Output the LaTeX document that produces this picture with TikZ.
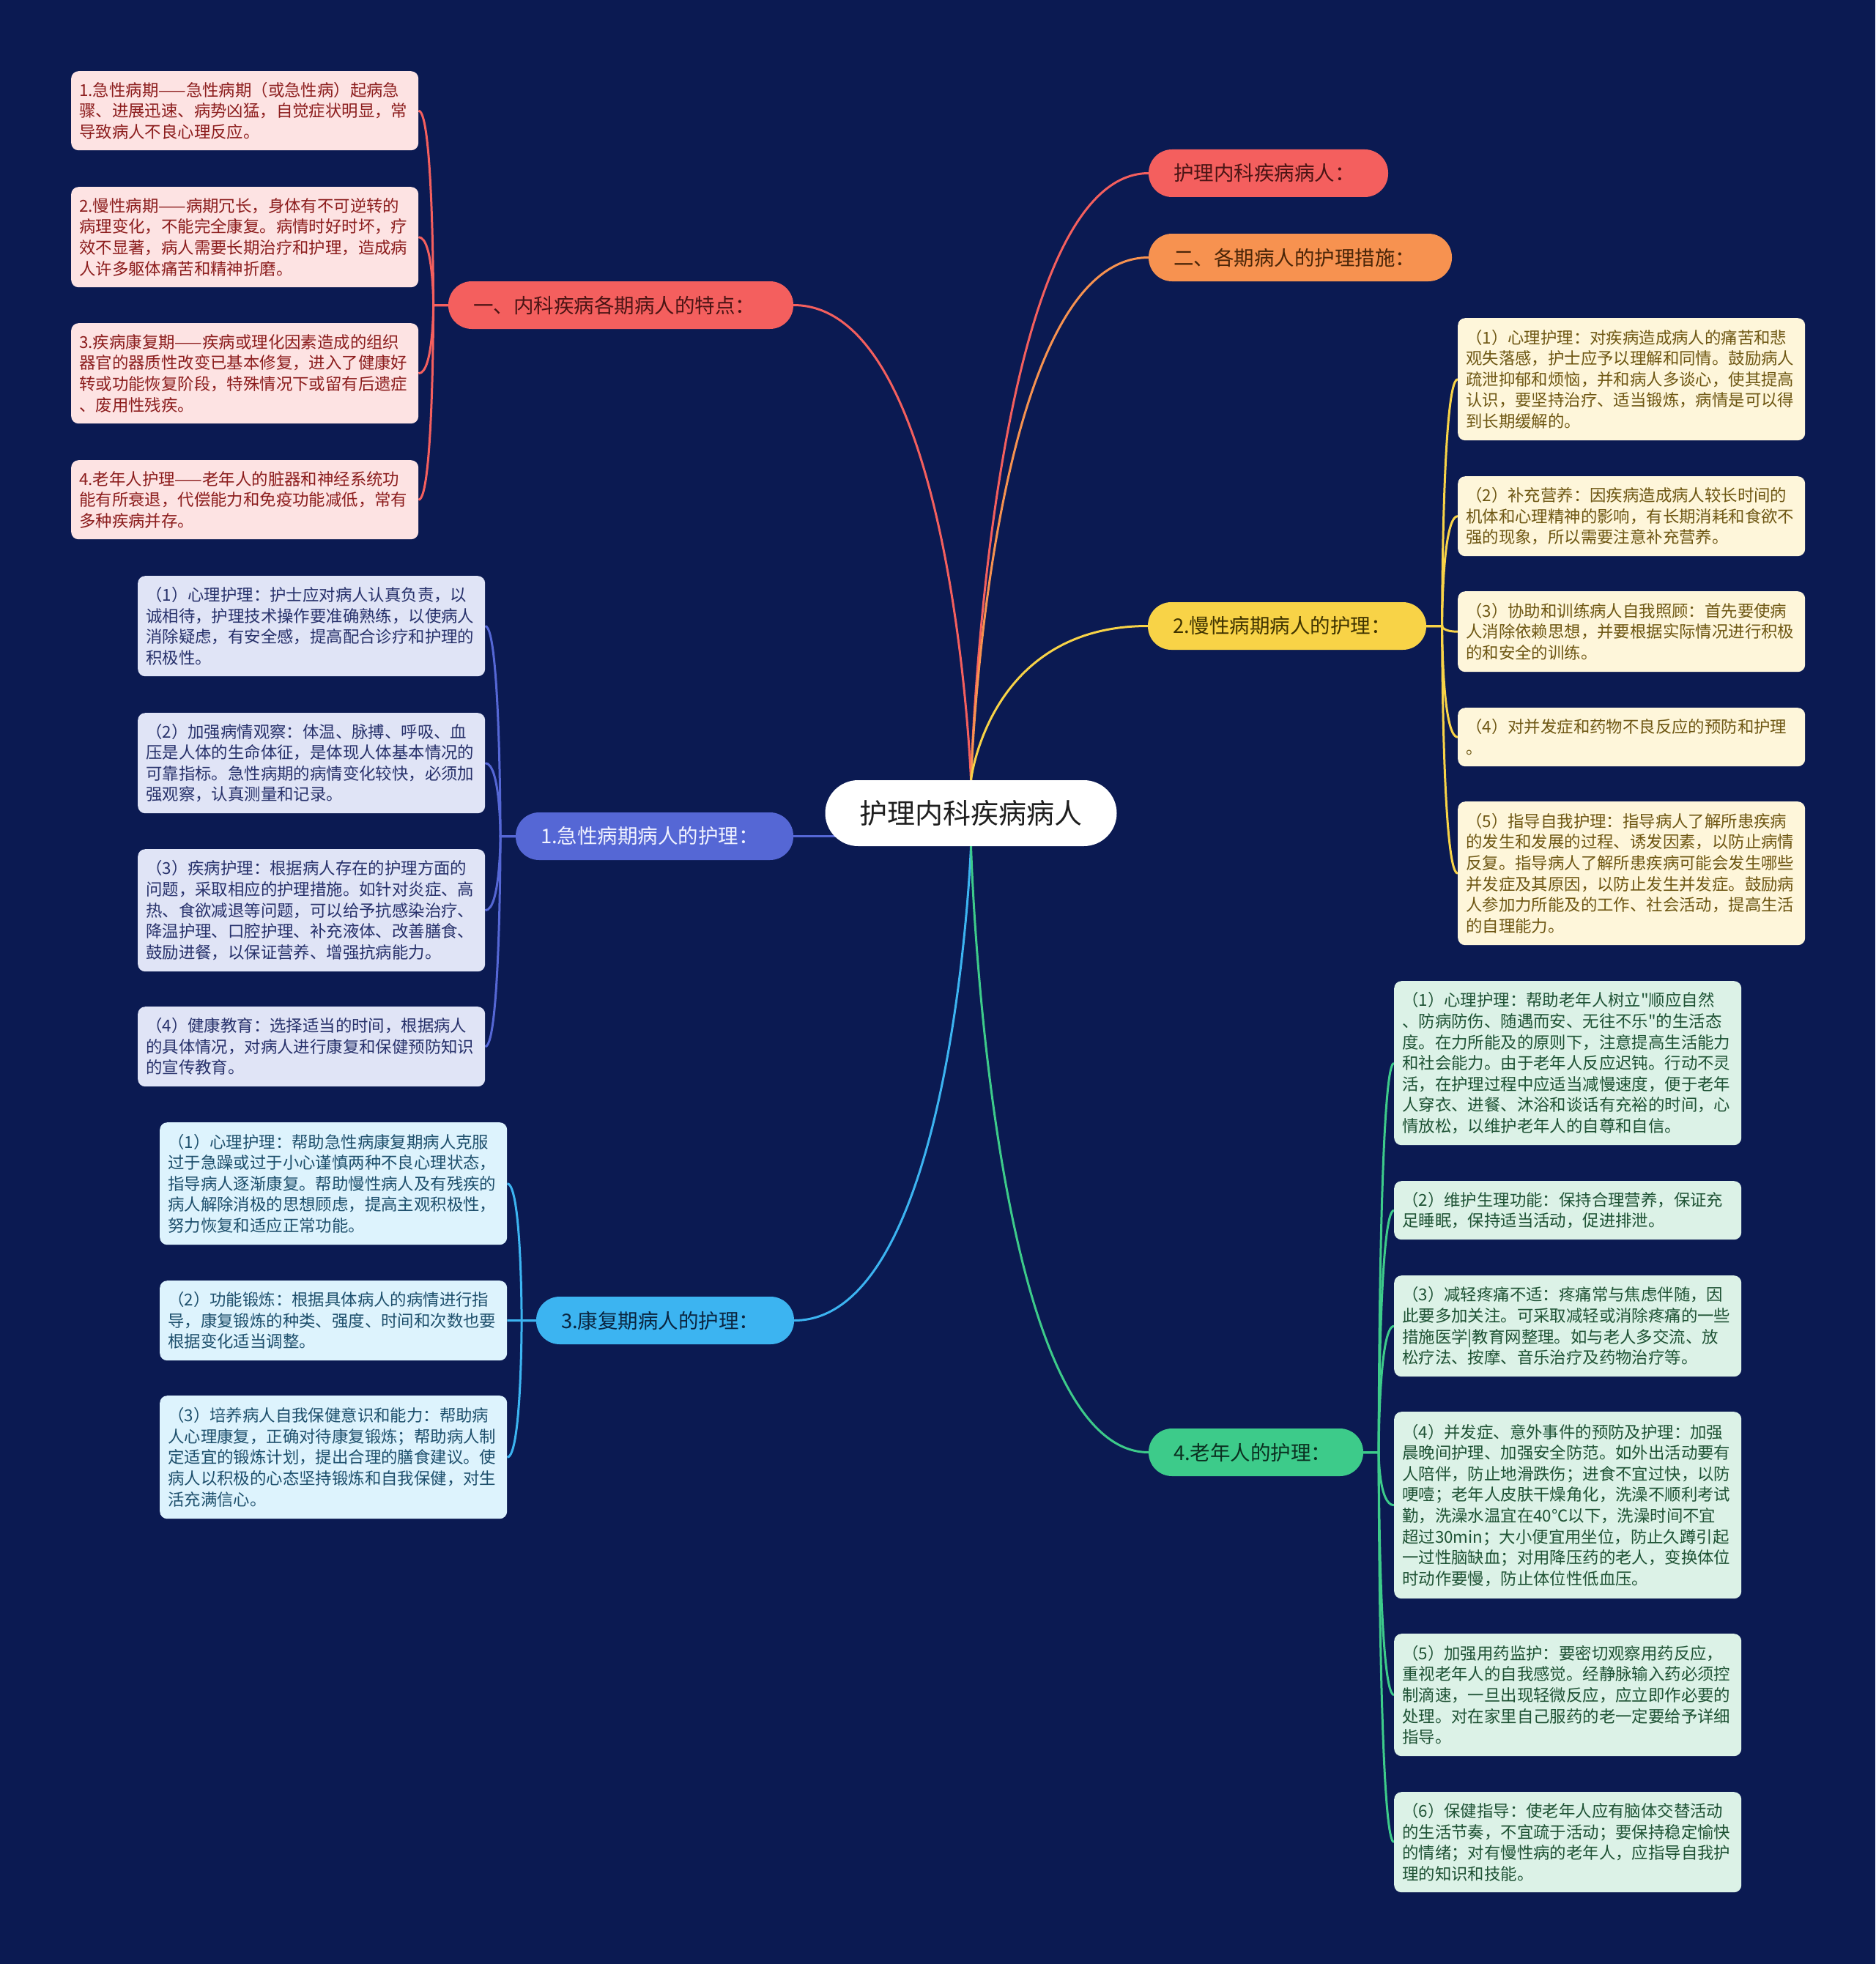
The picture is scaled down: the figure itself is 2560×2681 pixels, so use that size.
\documentclass[tikz,border=0pt]{standalone}
\usepackage{fontspec}
\setmainfont{Noto Sans CJK SC}
\newfontfamily\plainfont{Noto Sans CJK SC}
\usetikzlibrary{calc}
\parindent=0pt
\pgfdeclarelayer{bglayer}
\pgfdeclarelayer{edges}
\pgfsetlayers{bglayer,edges,main}
\definecolor{bg}{HTML}{0B1A52}
\definecolor{pRed}{HTML}{F45F5E}
\definecolor{pOrange}{HTML}{F79250}
\definecolor{pYellow}{HTML}{F8D347}
\definecolor{pBlue}{HTML}{5567D5}
\definecolor{pCyan}{HTML}{3CB4F1}
\definecolor{pGreen}{HTML}{3DCB8A}
\definecolor{tRed}{HTML}{4A1414}
\definecolor{tOrange}{HTML}{4A2508}
\definecolor{tYellow}{HTML}{3F3300}
\definecolor{tBlue}{HTML}{F0F2FF}
\definecolor{tCyan}{HTML}{0A2540}
\definecolor{tGreen}{HTML}{0A3020}
\definecolor{fPink}{HTML}{FDE3E3}
\definecolor{xPink}{HTML}{8C1D1D}
\definecolor{fLav}{HTML}{E0E4F6}
\definecolor{xLav}{HTML}{27316B}
\definecolor{fSky}{HTML}{DDF3FD}
\definecolor{xSky}{HTML}{1D4F6C}
\definecolor{fCream}{HTML}{FEF6DA}
\definecolor{xCream}{HTML}{6E5713}
\definecolor{fMint}{HTML}{DCF2E7}
\definecolor{xMint}{HTML}{1E5234}
\begin{document}
\begin{tikzpicture}[x=1pt,y=-1pt,
  edge/.style={line width=3pt},
  centernode/.style={fill=white,text=black!88,rounded corners=45pt,minimum width=398pt,minimum height=90pt,inner sep=0pt,font=\fontsize{38pt}{44pt}\selectfont},
  pill/.style={rounded corners=32pt,minimum height=65pt,inner xsep=34pt,inner ysep=0pt,align=left,font=\fontsize{27.5pt}{32pt}\selectfont},
  leaf/.style={anchor=north west,rounded corners=10pt,inner xsep=11pt,inner ysep=0pt,text width=452pt,align=left,font=\fontsize{22.4pt}{28.6pt}\selectfont},
  pink/.style={leaf,fill=fPink,text=xPink},
  lav/.style={leaf,fill=fLav,text=xLav},
  sky/.style={leaf,fill=fSky,text=xSky},
  cream/.style={leaf,fill=fCream,text=xCream},
  mint/.style={leaf,fill=fMint,text=xMint},
  trunk/.style={edge,to path={let \p1=(\tikztostart),\p2=(\tikztotarget) in (\p1) .. controls (\p1) and ({\x1+0.1*(\x2-\x1)},\y2) .. (\p2)}},
  brk/.style={edge,to path={let \p1=(\tikztostart),\p2=(\tikztotarget) in (\p1) -- ({(\x1+\x2)/2},\y1) .. controls ({(\x1+\x2)/2},\y1) and ({(\x1+\x2)/2},\y2) .. (\p2)}}
]
\begin{pgfonlayer}{bglayer}
\path[use as bounding box,fill=bg] (0,0) rectangle (2560,2681);
\end{pgfonlayer}

% center
\node[centernode] (c) at (1325.5,1110) {护理内科疾病病人};

% branches
\node[pill,fill=pRed,text=tRed,text width=259pt] (b0) at (1731.5,236.5) {护理内科疾病病人：};
\node[pill,fill=pOrange,text=tOrange,text width=346pt] (b00) at (1775,351.5) {二、各期病人的护理措施：};
\node[pill,fill=pRed,text=tRed,text width=403pt] (bL) at (847.5,416.5) {一、内科疾病各期病人的特点：};
\node[pill,fill=pYellow,text=tYellow,text width=312pt] (b2) at (1757,854.5) {2.慢性病期病人的护理：};
\node[pill,fill=pBlue,text=tBlue,text width=311pt] (b1) at (893.5,1141.5) {1.急性病期病人的护理：};
\node[pill,fill=pCyan,text=tCyan,text width=284pt] (b3) at (908,1802.5) {3.康复期病人的护理：};
\node[pill,fill=pGreen,text=tGreen,text width=225pt] (b4) at (1714.5,1982.5) {4.老年人的护理：};

% red leaves
\node[pink,minimum height=108pt] (R1) at (97,97) {1.急性病期——急性病期（或急性病）起病急\\骤、进展迅速、病势凶猛，自觉症状明显，常\\导致病人不良心理反应。};
\node[pink,minimum height=137pt] (R2) at (97,255) {2.慢性病期——病期冗长，身体有不可逆转的\\病理变化，不能完全康复。病情时好时坏，疗\\效不显著，病人需要长期治疗和护理，造成病\\人许多躯体痛苦和精神折磨。};
\node[pink,minimum height=137pt] (R3) at (97,441) {3.疾病康复期——疾病或理化因素造成的组织\\器官的器质性改变已基本修复，进入了健康好\\转或功能恢复阶段，特殊情况下或留有后遗症\\、废用性残疾。};
\node[pink,minimum height=108pt] (R4) at (97,628) {4.老年人护理——老年人的脏器和神经系统功\\能有所衰退，代偿能力和免疫功能减低，常有\\多种疾病并存。};

% lavender leaves
\node[lav,minimum height=137pt] (B1) at (188,786) {（1）心理护理：护士应对病人认真负责，以\\诚相待，护理技术操作要准确熟练，以使病人\\消除疑虑，有安全感，提高配合诊疗和护理的\\积极性。};
\node[lav,minimum height=137pt] (B2) at (188,973) {（2）加强病情观察：体温、脉搏、呼吸、血\\压是人体的生命体征，是体现人体基本情况的\\可靠指标。急性病期的病情变化较快，必须加\\强观察，认真测量和记录。};
\node[lav,minimum height=167pt] (B3) at (188,1159) {（3）疾病护理：根据病人存在的护理方面的\\问题，采取相应的护理措施。如针对炎症、高\\热、食欲减退等问题，可以给予抗感染治疗、\\降温护理、口腔护理、补充液体、改善膳食、\\鼓励进餐，以保证营养、增强抗病能力。};
\node[lav,minimum height=109pt] (B4) at (188,1374) {（4）健康教育：选择适当的时间，根据病人\\的具体情况，对病人进行康复和保健预防知识\\的宣传教育。};

% sky leaves
\node[sky,minimum height=167pt] (C1) at (218,1532) {（1）心理护理：帮助急性病康复期病人克服\\过于急躁或过于小心谨慎两种不良心理状态，\\指导病人逐渐康复。帮助慢性病人及有残疾的\\病人解除消极的思想顾虑，提高主观积极性，\\努力恢复和适应正常功能。};
\node[sky,minimum height=109pt] (C2) at (218,1748) {（2）功能锻炼：根据具体病人的病情进行指\\导，康复锻炼的种类、强度、时间和次数也要\\根据变化适当调整。};
\node[sky,minimum height=168pt] (C3) at (218,1905) {（3）培养病人自我保健意识和能力：帮助病\\人心理康复，正确对待康复锻炼；帮助病人制\\定适宜的锻炼计划，提出合理的膳食建议。使\\病人以积极的心态坚持锻炼和自我保健，对生\\活充满信心。};

% cream leaves
\node[cream,minimum height=167pt] (Y1) at (1990,434) {（1）心理护理：对疾病造成病人的痛苦和悲\\观失落感，护士应予以理解和同情。鼓励病人\\疏泄抑郁和烦恼，并和病人多谈心，使其提高\\认识，要坚持治疗、适当锻炼，病情是可以得\\到长期缓解的。};
\node[cream,minimum height=109pt] (Y2) at (1990,650) {（2）补充营养：因疾病造成病人较长时间的\\机体和心理精神的影响，有长期消耗和食欲不\\强的现象，所以需要注意补充营养。};
\node[cream,minimum height=110pt] (Y3) at (1990,807) {（3）协助和训练病人自我照顾：首先要使病\\人消除依赖思想，并要根据实际情况进行积极\\的和安全的训练。};
\node[cream,minimum height=80pt] (Y4) at (1990,966) {（4）对并发症和药物不良反应的预防和护理\\。};
\node[cream,minimum height=196pt] (Y5) at (1990,1094) {（5）指导自我护理：指导病人了解所患疾病\\的发生和发展的过程、诱发因素，以防止病情\\反复。指导病人了解所患疾病可能会发生哪些\\并发症及其原因，以防止发生并发症。鼓励病\\人参加力所能及的工作、社会活动，提高生活\\的自理能力。};

% mint leaves
\node[mint,minimum height=224pt] (G1) at (1903,1339) {（1）心理护理：帮助老年人树立{\plainfont"}顺应自然\\、防病防伤、随遇而安、无往不乐{\plainfont"}的生活态\\度。在力所能及的原则下，注意提高生活能力\\和社会能力。由于老年人反应迟钝。行动不灵\\活，在护理过程中应适当减慢速度，便于老年\\人穿衣、进餐、沐浴和谈话有充裕的时间，心\\情放松，以维护老年人的自尊和自信。};
\node[mint,minimum height=80pt] (G2) at (1903,1612) {（2）维护生理功能：保持合理营养，保证充\\足睡眠，保持适当活动，促进排泄。};
\node[mint,minimum height=138pt] (G3) at (1903,1741) {（3）减轻疼痛不适：疼痛常与焦虑伴随，因\\此要多加关注。可采取减轻或消除疼痛的一些\\措施医学|教育网整理。如与老人多交流、放\\松疗法、按摩、音乐治疗及药物治疗等。};
\node[mint,minimum height=255pt] (G4) at (1903,1927) {（4）并发症、意外事件的预防及护理：加强\\晨晚间护理、加强安全防范。如外出活动要有\\人陪伴，防止地滑跌伤；进食不宜过快，以防\\哽噎；老年人皮肤干燥角化，洗澡不顺利考试\\勤，洗澡水温宜在40℃以下，洗澡时间不宜\\超过30min；大小便宜用坐位，防止久蹲引起\\一过性脑缺血；对用降压药的老人，变换体位\\时动作要慢，防止体位性低血压。};
\node[mint,minimum height=167pt] (G5) at (1903,2230) {（5）加强用药监护：要密切观察用药反应，\\重视老年人的自我感觉。经静脉输入药必须控\\制滴速，一旦出现轻微反应，应立即作必要的\\处理。对在家里自己服药的老一定要给予详细\\指导。};
\node[mint,minimum height=137pt] (G6) at (1903,2446) {（6）保健指导：使老年人应有脑体交替活动\\的生活节奏，不宜疏于活动；要保持稳定愉快\\的情绪；对有慢性病的老年人，应指导自我护\\理的知识和技能。};

\begin{pgfonlayer}{edges}
% trunk connectors
\draw[pRed,trunk] (c.north) to (bL.east);
\draw[pRed,trunk] (c.north) to (b0.west);
\draw[pOrange,trunk] (c.north) to (b00.west);
\draw[pYellow,trunk] (c.north) to (b2.west);
\draw[pBlue,edge] (b1.east) -- (b1.east -| c.center);
\draw[pCyan,trunk] (c.south) to (b3.east);
\draw[pGreen,trunk] (c.south) to (b4.west);

% leaf connectors
\foreach \q in {R1,R2,R3,R4} \draw[pRed,brk] (bL.west) to (\q.east);
\foreach \q in {B1,B2,B3,B4} \draw[pBlue,brk] (b1.west) to (\q.east);
\foreach \q in {C1,C2,C3} \draw[pCyan,brk] (b3.west) to (\q.east);
\foreach \q in {Y1,Y2,Y3,Y4,Y5} \draw[pYellow,brk] (b2.east) to (\q.west);
\foreach \q in {G1,G2,G3,G4,G5,G6} \draw[pGreen,brk] (b4.east) to (\q.west);
\end{pgfonlayer}
\end{tikzpicture}
\end{document}
